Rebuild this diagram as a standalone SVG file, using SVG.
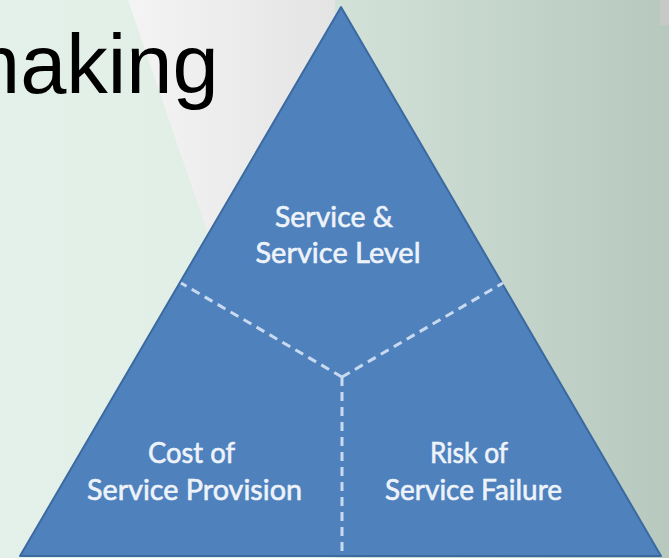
<svg xmlns="http://www.w3.org/2000/svg" width="669" height="558" viewBox="0 0 669 558">
  <defs>
    <linearGradient id="bgLeft" x1="0" y1="0" x2="1" y2="0">
      <stop offset="0" stop-color="#e4f1ea"/>
      <stop offset="1" stop-color="#d8e9df"/>
    </linearGradient>
    <linearGradient id="bgMid" x1="0" y1="0" x2="1" y2="0">
      <stop offset="0" stop-color="#f4f4f4"/>
      <stop offset="1" stop-color="#e4e4e4"/>
    </linearGradient>
    <linearGradient id="bgRight" x1="0" y1="0" x2="1" y2="0">
      <stop offset="0" stop-color="#d2e2d9"/>
      <stop offset="1" stop-color="#b7c8be"/>
    </linearGradient>
    <style>
      .lbl { font-family: Lato, "Open Sans", "Liberation Sans", sans-serif; font-size: 29px; fill: #eef3fa; stroke: #eef3fa; stroke-width: 0.6px; text-anchor: middle; }
      .div { stroke: #c9daf0; stroke-width: 3; stroke-dasharray: 9 6; fill: none; }
    </style>
  </defs>

  <g id="background">
    <rect x="0" y="0" width="669" height="558" fill="url(#bgLeft)"/>
    <rect x="335" y="0" width="334" height="558" fill="url(#bgRight)"/>
    <polygon points="128,0 335,0 335,240 210,240" fill="url(#bgMid)"/>
    <rect x="660" y="0" width="9" height="25" fill="#c6c9c7"/>
  </g>

  <g id="title">
    <text x="-49" y="93" font-family="'Liberation Sans', Arial, sans-serif" font-size="83" fill="#000000">making</text>
  </g>

  <g id="triangle">
    <polygon points="341,7 20,556 661,556" fill="#4f81bd" stroke="#3b6aa0" stroke-width="2" stroke-linejoin="round"/>
  </g>

  <g id="connectors">
    <line class="div" x1="342" y1="377" x2="181" y2="283"/>
    <line class="div" x1="342" y1="377" x2="503" y2="283"/>
    <line class="div" x1="342" y1="377" x2="342" y2="556"/>
  </g>

  <g id="node-service-level">
    <text class="lbl" x="334" y="227" textLength="118" lengthAdjust="spacingAndGlyphs">Service &amp;</text>
    <text class="lbl" x="338" y="263" textLength="165" lengthAdjust="spacingAndGlyphs">Service Level</text>
  </g>

  <g id="node-cost">
    <text class="lbl" x="191.5" y="463" textLength="87" lengthAdjust="spacingAndGlyphs">Cost of</text>
    <text class="lbl" x="194.5" y="500" textLength="215" lengthAdjust="spacingAndGlyphs">Service Provision</text>
  </g>

  <g id="node-risk">
    <text class="lbl" x="469" y="463" textLength="78" lengthAdjust="spacingAndGlyphs">Risk of</text>
    <text class="lbl" x="473.5" y="500" textLength="177" lengthAdjust="spacingAndGlyphs">Service Failure</text>
  </g>
</svg>
